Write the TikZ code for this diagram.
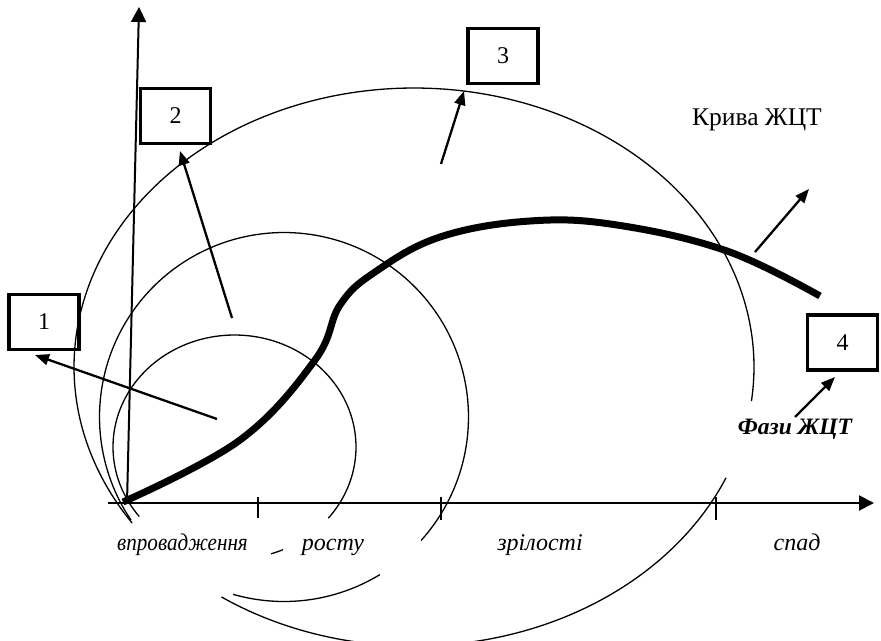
\documentclass[tikz,border=0pt]{standalone}
\usepackage{fontspec}
\setmainfont{Liberation Serif}
\usetikzlibrary{arrows.meta}
\begin{document}
\begin{tikzpicture}[x=1pt,y=-1pt,
  numbox/.style={draw, line width=3.5pt, minimum width=70pt, minimum height=55pt, inner sep=0pt, font=\fontsize{24}{28}\selectfont},
  arcline/.style={line width=1.3pt},
  axisline/.style={line width=2pt, -{Triangle[length=15pt,width=15pt]}},
  pointer/.style={line width=2.3pt, -{Triangle[length=14pt,width=11pt]}},
  phase/.style={font=\fontsize{24}{28}\selectfont\itshape, anchor=base},
  lifecurve/.style={line width=7pt}]
\useasboundingbox (0,0) rectangle (881,640);
\clip (0,0) rectangle (881,640);

% axes
\coordinate (o) at (108,503);
\coordinate (xtip) at (874,503);
\coordinate (ybase) at (127,503);
\coordinate (ytip) at (139,7);
\draw[axisline] (o) -- (xtip);
\draw[axisline] (ybase) -- (ytip);

% ticks
\foreach \tx/\tb in {258/518, 441/520, 716/520}
  \draw[line width=1.6pt] (\tx,497) -- (\tx,\tb);

% inner ellipse
\draw[arcline] plot[domain=39.5:-218.4, samples=120] ({234.5+121.5*cos(\x)},{447+112*sin(\x)});
\draw[arcline] plot[domain=66.5:72.5, samples=10] ({234.5+121.5*cos(\x)},{447+112*sin(\x)});

% middle circle
\draw[arcline] plot[domain=42:-214, samples=150] ({284+184.5*cos(\x)},{417+184.5*sin(\x)});
\draw[arcline] plot[domain=58.7:106, samples=40] ({284+184.5*cos(\x)},{417+184.5*sin(\x)});

% big ellipse
\draw[arcline] plot[domain=146:367, samples=200] ({414+340*cos(\x)},{367+279*sin(\x)});
\draw[arcline] plot[domain=23.4:124.5, samples=100] ({414+340*cos(\x)},{367+279*sin(\x)});

% life cycle curve
\draw[lifecurve] plot[smooth, tension=0.65] coordinates {(123,502) (240,440) (315,360) (340,305) (375,272) (440,237) (530,221) (617,225) (727,251) (820,296)};

% boxes
\node[numbox] (b1) at (44,322) {1};
\node[numbox] (b2) at (175.5,116) {2};
\node[numbox] (b3) at (503,56) {3};
\node[numbox] (b4) at (842.5,342.5) {4};

% pointers
\coordinate (s1) at (217,419); \coordinate (t1) at (35,355);
\coordinate (s2) at (232,318); \coordinate (t2) at (180,151);
\coordinate (s3) at (441,164); \coordinate (t3) at (464,91);
\coordinate (s5) at (755,252); \coordinate (t5) at (809,189);
\draw[pointer] (s1) -- (t1);
\draw[pointer] (s2) -- (t2);
\draw[pointer] (s3) -- (t3);
\draw[pointer] (s5) -- (t5);

% labels
\node[font=\fontsize{25.5}{30}\selectfont, anchor=base] (krv) at (757,125) {Крива ЖЦТ};
\node[font=\fontsize{23.5}{28}\selectfont\bfseries\itshape, anchor=base] (fz) at (795,434) {Фази ЖЦТ};
\coordinate (s4) at (795,417); \coordinate (t4) at (835,377);
\draw[pointer] (s4) -- (t4);

\node[phase] (p1) at (182.5,550) {\scalebox{0.88}[1]{впровадження}};
\node[phase] (p2) at (333,550) {росту};
\node[phase] (p3) at (540,550) {зрілості};
\node[phase] (p4) at (797,550) {спад};
\end{tikzpicture}
\end{document}
